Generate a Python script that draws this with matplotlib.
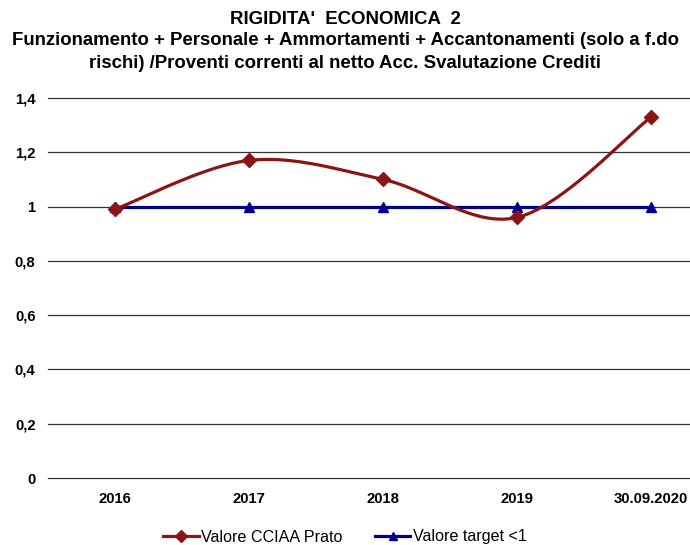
import matplotlib.pyplot as plt
import numpy as np

years = ['2016', '2017', '2018', '2019', '30.09.2020']
valore_prato = [0.99, 1.17, 1.10, 0.96, 1.33]
valore_target = [1, 1, 1, 1, 1]
y_ticks = [0, 0.2, 0.4, 0.6, 0.8, 1.0, 1.2, 1.4]
y_labels = ['0', '0,2', '0,4', '0,6', '0,8', '1', '1,2', '1,4']

RED = '#8b1414'
BLUE = '#000090'
NARROW = ['Liberation Sans Narrow', 'Liberation Sans', 'DejaVu Sans']


def smooth(x, y, n=40):
    # Excel-like smoothed line: cubic bezier with Catmull-Rom control points
    x = np.asarray(x, float)
    y = np.asarray(y, float)
    px, py = [], []
    t = np.linspace(0, 1, n)
    for i in range(len(x) - 1):
        x0, y0 = (x[i - 1], y[i - 1]) if i > 0 else (x[i], y[i])
        x3, y3 = (x[i + 2], y[i + 2]) if i + 2 < len(x) else (x[i + 1], y[i + 1])
        c1x = x[i] + (x[i + 1] - x0) / 6
        c1y = y[i] + (y[i + 1] - y0) / 6
        c2x = x[i + 1] - (x3 - x[i]) / 6
        c2y = y[i + 1] - (y3 - y[i]) / 6
        bx = (1 - t) ** 3 * x[i] + 3 * (1 - t) ** 2 * t * c1x + 3 * (1 - t) * t ** 2 * c2x + t ** 3 * x[i + 1]
        by = (1 - t) ** 3 * y[i] + 3 * (1 - t) ** 2 * t * c1y + 3 * (1 - t) * t ** 2 * c2y + t ** 3 * y[i + 1]
        px.extend(bx)
        py.extend(by)
    return px, py


fig = plt.figure(figsize=(6.9, 5.45), dpi=100)
ax = fig.add_axes([48 / 690, 1 - 478 / 545, 1 - 48 / 690, (478 - 98) / 545])

xs = np.arange(len(years))
sx, sy = smooth(xs, valore_prato)
ax.plot(sx, sy, color=RED, lw=2.3, zorder=3)
ax.plot(xs, valore_prato, ls='none', marker='D', ms=7.5, color=RED, zorder=4)
ax.plot(xs, valore_target, color=BLUE, lw=2.3, marker='^', ms=7.5, zorder=2)

# legend proxies
ax.plot([], [], color=RED, lw=2.3, marker='D', ms=6, label='Valore CCIAA Prato')
ax.plot([], [], color=BLUE, lw=2.3, marker='^', ms=6, label='Valore target <1')

ax.set_xlim(-0.5, 4.29)
ax.set_ylim(0, 1.4)
ax.set_yticks(y_ticks)
ax.set_yticklabels(y_labels, fontsize=10.7, fontweight='bold', family=NARROW)
ax.set_xticks(xs)
ax.set_xticklabels(years, fontsize=10.7, fontweight='bold', family=NARROW)
ax.tick_params(length=0)
ax.tick_params(axis='x', pad=10)
ax.tick_params(axis='y', pad=9)
ax.grid(axis='y', color='#333333', lw=0.9)
for line in ax.get_ygridlines():
    line.set_clip_on(False)
for s in ax.spines.values():
    s.set_visible(False)

fig.text(0.5, 1 - 19 / 545, "RIGIDITA'  ECONOMICA  2", ha='center', va='center',
         fontsize=13.4, fontweight='bold', family='Liberation Sans')
fig.text(0.5, 1 - 52 / 545,
         'Funzionamento + Personale + Ammortamenti + Accantonamenti (solo a f.do\n'
         'rischi) /Proventi correnti al netto Acc. Svalutazione Crediti',
         ha='center', va='center', fontsize=13.4, fontweight='bold', family='Liberation Sans',
         linespacing=1.45)

fig.legend(loc='center', bbox_to_anchor=(0.5, 1 - 537 / 545), ncol=2, frameon=False,
           prop={'family': NARROW, 'size': 11.6}, handlelength=2.2, columnspacing=2.0,
           handletextpad=0.15)

fig.savefig('out.png', dpi=100)
